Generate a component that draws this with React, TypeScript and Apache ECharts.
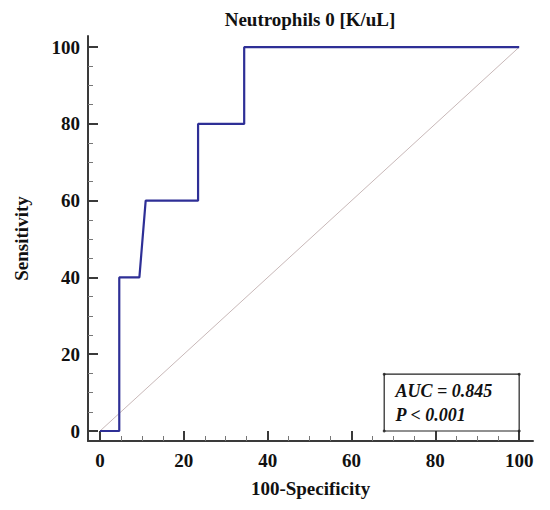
import React, { useEffect, useRef } from "react";
import * as echarts from "echarts";

const titleText = "Neutrophils 0 [K/uL]";
const xName = "100-Specificity";
const yName = "Sensitivity";

const rocX = [0, 4.6, 4.6, 9.4, 10.9, 23.4, 23.4, 34.4, 34.4, 100];
const rocY = [0, 0, 40, 40, 60, 60, 80, 80, 100, 100];

const refX = [0, 100];
const refY = [0, 100];

const majorTicks = [0, 20, 40, 60, 80, 100];
const minorTicks = [5, 10, 15, 25, 30, 35, 45, 50, 55, 65, 70, 75, 85, 90, 95];

const statLines = ["AUC = 0.845", "P < 0.001"];
const boxX = [67.8, 100];
const boxY = [0, 14.8];

const FONT = "Liberation Serif";

export default function App() {
  const ref = useRef<HTMLDivElement>(null);
  useEffect(() => {
    if (!ref.current) return;
    const chart = echarts.init(ref.current, null, { renderer: "svg" });
    const axisMin = { x: -2.86, y: -2.6 };
    const axisMax = { x: 103.3, y: 102.9 };
    const commonMajor = (isX: boolean) => ({
      type: "value",
      min: isX ? axisMin.x : axisMin.y,
      max: isX ? axisMax.x : axisMax.y,
      position: isX ? "bottom" : "left",
      axisLine: { show: true, onZero: false, lineStyle: { color: "#3a3a3a", width: 2 } },
      axisTick: {
        show: true,
        inside: true,
        length: 10,
        customValues: majorTicks,
        lineStyle: { color: "#3a3a3a", width: 2 },
      },
      axisLabel: {
        show: true,
        customValues: majorTicks,
        color: "#111",
        fontFamily: FONT,
        fontWeight: "bold",
        fontSize: 19,
        margin: isX ? 10 : 8,
      },
      splitLine: { show: false },
    });
    const commonMinor = (isX: boolean) => ({
      type: "value",
      min: isX ? axisMin.x : axisMin.y,
      max: isX ? axisMax.x : axisMax.y,
      position: isX ? "bottom" : "left",
      axisLine: { show: false, onZero: false },
      axisTick: {
        show: true,
        inside: true,
        length: 5,
        customValues: minorTicks,
        lineStyle: { color: "#777", width: 1 },
      },
      axisLabel: { show: false },
      splitLine: { show: false },
    });

    const rocData = rocX.map((x, i) => [x, rocY[i]]);
    const refData = refX.map((x, i) => [x, refY[i]]);
    const corners = [
      [boxX[0], boxY[0]],
      [boxX[1], boxY[0]],
      [boxX[0], boxY[1]],
      [boxX[1], boxY[1]],
    ];

    chart.setOption({
      animation: false,
      backgroundColor: "#ffffff",
      grid: { left: 88, right: 17, top: 36, bottom: 69, containLabel: false },
      xAxis: [
        {
          ...commonMajor(true),
          name: xName,
          nameLocation: "middle",
          nameGap: 38,
          nameTextStyle: { fontFamily: FONT, fontWeight: "bold", fontSize: 19, color: "#111" },
        },
        commonMinor(true),
      ],
      yAxis: [
        {
          ...commonMajor(false),
          name: yName,
          nameLocation: "middle",
          nameGap: 57,
          nameTextStyle: { fontFamily: FONT, fontWeight: "bold", fontSize: 19, color: "#111" },
        },
        commonMinor(false),
      ],
      graphic: [
        {
          type: "text",
          x: 310,
          y: 19,
          style: {
            text: titleText,
            fontFamily: FONT,
            fontWeight: "bold",
            fontSize: 19,
            fill: "#111",
            align: "center",
            verticalAlign: "middle",
          },
        },
      ],
      series: [
        {
          type: "line",
          data: refData,
          symbol: "none",
          lineStyle: { color: "#c8b8b8", width: 1 },
          silent: true,
          z: 1,
        },
        {
          type: "line",
          data: rocData,
          symbol: "none",
          lineStyle: { color: "#2e2f96", width: 2.2 },
          z: 3,
          markArea: {
            silent: true,
            itemStyle: { color: "rgba(255,255,255,1)", borderColor: "#222", borderWidth: 1.2 },
            label: {
              show: true,
              position: "insideLeft",
              distance: 12,
              formatter: statLines.join("\n"),
              fontFamily: FONT,
              fontStyle: "italic",
              fontWeight: "bold",
              fontSize: 18,
              lineHeight: 24,
              color: "#111",
            },
            data: [[{ coord: [boxX[0], boxY[1]] }, { coord: [boxX[1], boxY[0]] }]],
          },
        },
        {
          type: "scatter",
          data: corners,
          symbol: "circle",
          symbolSize: 3,
          itemStyle: { color: "#222" },
          z: 4,
          silent: true,
        },
      ],
    });
    return () => chart.dispose();
  }, []);
  return (
    <div
      ref={ref}
      style={{ position: "fixed", left: 0, top: 0, width: 550, height: 510 }}
    />
  );
}
